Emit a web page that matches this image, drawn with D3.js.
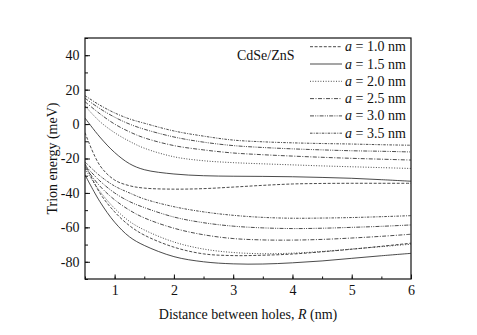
<!DOCTYPE html>
<html>
<head>
<meta charset="utf-8">
<script src="https://cdn.jsdelivr.net/npm/d3@7"></script>
<style>
  body { margin: 0; background: #fff; }
  svg text { font-family: "Liberation Serif", "Times New Roman", serif !important; fill: #111; }
  .axis path { display: none; }
  .axis line { stroke: #111; stroke-width: 1; }
  .curve { fill: none; stroke: #2b2b2b; stroke-width: 0.85; }
</style>
</head>
<body>
<div id="chart"></div>
<script>
// Distance between holes R (nm) at which values were read.
var distances = [0.5, 0.75, 1, 1.25, 1.5, 2, 2.5, 3, 3.5, 4, 4.5, 5, 5.5, 6];

var seriesLabels = ['1.0', '1.5', '2.0', '2.5', '3.0', '3.5'];

// Upper branch of each a (meV).
var upper10 = [-5, -24, -32.5, -35.8, -37.2, -37.8, -37.5, -36.6, -35.6, -34.8, -34.5, -34.4, -34.4, -34.4];
var upper15 = [3.5, -7.5, -16.5, -23, -26.5, -29, -30, -30.3, -30.4, -30.6, -31, -31.5, -32.3, -33.2];
var upper20 = [10.5, 1.5, -5, -10, -14, -19, -21.3, -22.4, -23.1, -23.7, -24.3, -24.8, -25.3, -25.8];
var upper25 = [13, 6, 0, -4.5, -8, -12.5, -15, -16.8, -17.8, -18.6, -19.3, -19.9, -20.4, -20.9];
var upper30 = [15, 9, 4, 0, -3, -7.5, -10.5, -12.5, -13.6, -14.4, -15, -15.5, -15.8, -16.2];
var upper35 = [16.5, 11, 6.5, 3, 0.5, -4, -7, -9.3, -10.3, -10.9, -11.3, -11.6, -12, -12.3];

// Lower branch of each a (meV).
var lower10 = [-23, -40, -51, -59, -64.5, -71.5, -75.4, -76.4, -76.2, -75.5, -74.2, -72.7, -71, -69.2];
var lower15 = [-29.5, -45, -57, -65.5, -70.5, -77, -80, -81.2, -81.3, -80.6, -79.5, -78, -76.5, -75.1];
var lower20 = [-26, -39, -49, -56.5, -61.5, -68.5, -72.6, -74.6, -75.3, -75, -74, -72.6, -71.2, -69.8];
var lower25 = [-25, -36, -44, -50, -54.5, -60.5, -64.3, -66.5, -67.3, -67.4, -67, -66.2, -65.2, -64];
var lower30 = [-24, -33, -40, -45, -48.5, -54, -57.3, -59.3, -60.3, -60.7, -60.5, -60, -59.4, -58.6];
var lower35 = [-22, -30, -36, -40, -43.5, -48, -51, -53, -54.2, -54.7, -54.6, -54.3, -53.8, -53.2];

var xTicks = [1, 2, 3, 4, 5, 6];
var yTicks = [40, 20, 0, -20, -40, -60, -80];

var upperSeries = [upper10, upper15, upper20, upper25, upper30, upper35];
var lowerSeries = [lower10, lower15, lower20, lower25, lower30, lower35];
var dashes = ['3,1.6', null, '1,1.6', '4,1.5,1,1.5', '4,1.2,1,1.2,1,1.2', '2.5,1.2,1,1.2'];

var width = 477, height = 335;
var margin = {top: 38, right: 66, bottom: 56, left: 85};
var plotW = width - margin.left - margin.right;
var plotH = height - margin.top - margin.bottom;
var serif = '"Liberation Serif", "Times New Roman", serif';

var svg = d3.select('#chart').append('svg')
    .attr('width', width)
    .attr('height', height);

var g = svg.append('g')
    .attr('transform', 'translate(' + margin.left + ',' + margin.top + ')');

var x = d3.scaleLinear().domain([0.5, 6]).range([0, plotW]);
var y = d3.scaleLinear().domain([-90, 50]).range([plotH, 0]);

g.append('clipPath').attr('id', 'clip')
  .append('rect').attr('width', plotW).attr('height', plotH);

// Minor ticks.
g.append('g').attr('class', 'axis')
    .attr('transform', 'translate(0,' + plotH + ')')
    .call(d3.axisBottom(x).tickValues(d3.range(0.5, 6.01, 0.5)).tickSize(-2.5).tickFormat(''));
g.append('g').attr('class', 'axis')
    .call(d3.axisLeft(y).tickValues(d3.range(-90, 50.1, 10)).tickSize(-3).tickFormat(''));

// Major ticks with labels.
var xAxis = g.append('g').attr('class', 'axis')
    .attr('transform', 'translate(0,' + plotH + ')')
    .call(d3.axisBottom(x).tickValues(xTicks).tickSize(-4.5).tickPadding(6.5).tickFormat(d3.format('d')));
var yAxis = g.append('g').attr('class', 'axis')
    .call(d3.axisLeft(y).tickValues(yTicks).tickSize(-5).tickPadding(5.5).tickFormat(function(d) { return String(d); }));
xAxis.attr('font-family', serif).attr('font-size', 14);
yAxis.attr('font-family', serif).attr('font-size', 14);

// Curves.
var line = d3.line()
    .x(function(d, i) { return x(distances[i]); })
    .y(function(d) { return y(d); })
    .curve(d3.curveCatmullRom.alpha(0.5));

var curves = g.append('g').attr('clip-path', 'url(#clip)');
[upperSeries, lowerSeries].forEach(function(group) {
  curves.selectAll(null).data(group).enter().append('path')
      .attr('class', 'curve')
      .attr('d', line)
      .style('stroke-dasharray', function(d, i) { return dashes[i]; });
});

// Frame.
g.append('rect')
    .attr('width', plotW).attr('height', plotH)
    .attr('fill', 'none').attr('stroke', '#111').attr('stroke-width', 1.2);

// Legend.
svg.append('text')
    .attr('x', 237).attr('y', 60)
    .style('font-size', '14px')
    .text('CdSe/ZnS');

var legend = svg.selectAll('g.legend').data(seriesLabels).enter().append('g')
    .attr('class', 'legend')
    .attr('transform', function(d, i) { return 'translate(310,' + (46.7 + i * 17.3) + ')'; });
legend.append('line')
    .attr('x1', 0).attr('x2', 32).attr('y1', 0).attr('y2', 0)
    .attr('class', 'curve')
    .style('stroke-dasharray', function(d, i) { return dashes[i]; });
var lt = legend.append('text')
    .attr('x', 35).attr('y', 4.5)
    .style('font-size', '14px');
lt.append('tspan').style('font-style', 'italic').text('a');
lt.append('tspan').text(function(d) { return ' = ' + d + ' nm'; });

// Axis titles.
var xt = svg.append('text')
    .attr('x', margin.left + plotW / 2).attr('y', 319)
    .attr('text-anchor', 'middle')
    .style('font-size', '14px');
xt.append('tspan').text('Distance between holes, ');
xt.append('tspan').style('font-style', 'italic').text('R');
xt.append('tspan').text(' (nm)');

svg.append('text')
    .attr('transform', 'translate(57,' + (margin.top + plotH / 2) + ') rotate(-90)')
    .attr('text-anchor', 'middle')
    .style('font-size', '14px')
    .text('Trion energy (meV)');
</script>
</body>
</html>
